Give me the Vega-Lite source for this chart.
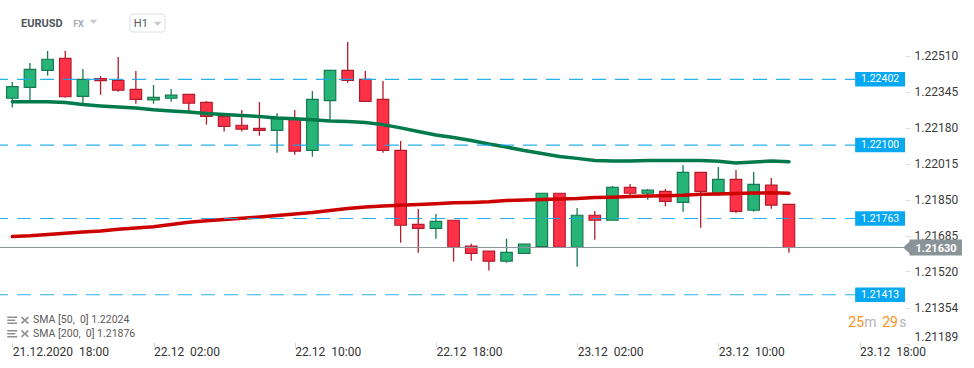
{
  "$schema": "https://vega.github.io/schema/vega-lite/v6.json",
  "width": 905,
  "height": 344,
  "autosize": {"type": "none"},
  "padding": {"left": 0, "top": 0, "right": 69, "bottom": 24},
  "background": "#ffffff",
  "config": {"font": "Roboto", "view": {"stroke": null}},
  "title": {"text": "EURUSD", "anchor": "start", "frame": "group", "orient": "top", "offset": 0, "dx": 21, "dy": 38, "baseline": "alphabetic", "fontSize": 11, "fontWeight": "bold", "color": "#4f565d", "font": "Roboto"},
  "datasets": {
    "candles": [
      {"t": "2020-12-21T18:00:00Z", "o": 1.22315, "h": 1.22390, "l": 1.22272, "c": 1.22368},
      {"t": "2020-12-21T19:00:00Z", "o": 1.22365, "h": 1.22477, "l": 1.22302, "c": 1.22448},
      {"t": "2020-12-21T20:00:00Z", "o": 1.22443, "h": 1.22532, "l": 1.22419, "c": 1.22494},
      {"t": "2020-12-21T21:00:00Z", "o": 1.22498, "h": 1.22532, "l": 1.22318, "c": 1.22322},
      {"t": "2020-12-21T22:00:00Z", "o": 1.22324, "h": 1.22449, "l": 1.22289, "c": 1.22402},
      {"t": "2020-12-21T23:00:00Z", "o": 1.22405, "h": 1.22417, "l": 1.22331, "c": 1.22396},
      {"t": "2020-12-22T00:00:00Z", "o": 1.22397, "h": 1.22504, "l": 1.22345, "c": 1.22352},
      {"t": "2020-12-22T01:00:00Z", "o": 1.22356, "h": 1.22440, "l": 1.22290, "c": 1.22310},
      {"t": "2020-12-22T02:00:00Z", "o": 1.22308, "h": 1.22376, "l": 1.22290, "c": 1.22319},
      {"t": "2020-12-22T03:00:00Z", "o": 1.22315, "h": 1.22357, "l": 1.22299, "c": 1.22329},
      {"t": "2020-12-22T04:00:00Z", "o": 1.22333, "h": 1.22335, "l": 1.22246, "c": 1.22292},
      {"t": "2020-12-22T05:00:00Z", "o": 1.22296, "h": 1.22302, "l": 1.22194, "c": 1.22232},
      {"t": "2020-12-22T06:00:00Z", "o": 1.22232, "h": 1.22232, "l": 1.22162, "c": 1.22186},
      {"t": "2020-12-22T07:00:00Z", "o": 1.22191, "h": 1.22261, "l": 1.22162, "c": 1.22173},
      {"t": "2020-12-22T08:00:00Z", "o": 1.22177, "h": 1.22298, "l": 1.22143, "c": 1.22168},
      {"t": "2020-12-22T09:00:00Z", "o": 1.22168, "h": 1.22246, "l": 1.22065, "c": 1.22221},
      {"t": "2020-12-22T10:00:00Z", "o": 1.22221, "h": 1.22261, "l": 1.22056, "c": 1.22072},
      {"t": "2020-12-22T11:00:00Z", "o": 1.22076, "h": 1.22348, "l": 1.22047, "c": 1.22310},
      {"t": "2020-12-22T12:00:00Z", "o": 1.22304, "h": 1.22443, "l": 1.22211, "c": 1.22443},
      {"t": "2020-12-22T13:00:00Z", "o": 1.22443, "h": 1.22573, "l": 1.22386, "c": 1.22397},
      {"t": "2020-12-22T14:00:00Z", "o": 1.22402, "h": 1.22440, "l": 1.22301, "c": 1.22301},
      {"t": "2020-12-22T15:00:00Z", "o": 1.22310, "h": 1.22394, "l": 1.22065, "c": 1.22076},
      {"t": "2020-12-22T16:00:00Z", "o": 1.22076, "h": 1.22119, "l": 1.21652, "c": 1.21732},
      {"t": "2020-12-22T17:00:00Z", "o": 1.21736, "h": 1.21807, "l": 1.21606, "c": 1.21718},
      {"t": "2020-12-22T18:00:00Z", "o": 1.21718, "h": 1.21784, "l": 1.21670, "c": 1.21750},
      {"t": "2020-12-22T19:00:00Z", "o": 1.21755, "h": 1.21755, "l": 1.21565, "c": 1.21631},
      {"t": "2020-12-22T20:00:00Z", "o": 1.21636, "h": 1.21647, "l": 1.21569, "c": 1.21603},
      {"t": "2020-12-22T21:00:00Z", "o": 1.21613, "h": 1.21613, "l": 1.21524, "c": 1.21567},
      {"t": "2020-12-22T22:00:00Z", "o": 1.21567, "h": 1.21670, "l": 1.21560, "c": 1.21608},
      {"t": "2020-12-22T23:00:00Z", "o": 1.21603, "h": 1.21645, "l": 1.21603, "c": 1.21645},
      {"t": "2020-12-23T00:00:00Z", "o": 1.21634, "h": 1.21879, "l": 1.21634, "c": 1.21879},
      {"t": "2020-12-23T01:00:00Z", "o": 1.21879, "h": 1.21879, "l": 1.21631, "c": 1.21631},
      {"t": "2020-12-23T02:00:00Z", "o": 1.21631, "h": 1.21811, "l": 1.21542, "c": 1.21778},
      {"t": "2020-12-23T03:00:00Z", "o": 1.21778, "h": 1.21798, "l": 1.21666, "c": 1.21755},
      {"t": "2020-12-23T04:00:00Z", "o": 1.21755, "h": 1.21912, "l": 1.21755, "c": 1.21906},
      {"t": "2020-12-23T05:00:00Z", "o": 1.21906, "h": 1.21921, "l": 1.21870, "c": 1.21879},
      {"t": "2020-12-23T06:00:00Z", "o": 1.21879, "h": 1.21899, "l": 1.21849, "c": 1.21893},
      {"t": "2020-12-23T07:00:00Z", "o": 1.21888, "h": 1.21899, "l": 1.21819, "c": 1.21842},
      {"t": "2020-12-23T08:00:00Z", "o": 1.21837, "h": 1.22009, "l": 1.21794, "c": 1.21975},
      {"t": "2020-12-23T09:00:00Z", "o": 1.21975, "h": 1.21975, "l": 1.21721, "c": 1.21888},
      {"t": "2020-12-23T10:00:00Z", "o": 1.21879, "h": 1.22000, "l": 1.21870, "c": 1.21943},
      {"t": "2020-12-23T11:00:00Z", "o": 1.21943, "h": 1.21986, "l": 1.21787, "c": 1.21796},
      {"t": "2020-12-23T12:00:00Z", "o": 1.21801, "h": 1.21977, "l": 1.21794, "c": 1.21920},
      {"t": "2020-12-23T13:00:00Z", "o": 1.21916, "h": 1.21949, "l": 1.21808, "c": 1.21824},
      {"t": "2020-12-23T14:00:00Z", "o": 1.21828, "h": 1.21828, "l": 1.21606, "c": 1.21630}
    ],
    "sma": [
      {"t": "2020-12-21T18:00:00Z", "s": "SMA50", "v": 1.22299},
      {"t": "2020-12-21T19:00:00Z", "s": "SMA50", "v": 1.22299},
      {"t": "2020-12-21T20:00:00Z", "s": "SMA50", "v": 1.22299},
      {"t": "2020-12-21T21:00:00Z", "s": "SMA50", "v": 1.22296},
      {"t": "2020-12-21T22:00:00Z", "s": "SMA50", "v": 1.22286},
      {"t": "2020-12-21T23:00:00Z", "s": "SMA50", "v": 1.22280},
      {"t": "2020-12-22T00:00:00Z", "s": "SMA50", "v": 1.22275},
      {"t": "2020-12-22T01:00:00Z", "s": "SMA50", "v": 1.22270},
      {"t": "2020-12-22T02:00:00Z", "s": "SMA50", "v": 1.22262},
      {"t": "2020-12-22T03:00:00Z", "s": "SMA50", "v": 1.22257},
      {"t": "2020-12-22T04:00:00Z", "s": "SMA50", "v": 1.22252},
      {"t": "2020-12-22T05:00:00Z", "s": "SMA50", "v": 1.22245},
      {"t": "2020-12-22T06:00:00Z", "s": "SMA50", "v": 1.22240},
      {"t": "2020-12-22T07:00:00Z", "s": "SMA50", "v": 1.22236},
      {"t": "2020-12-22T08:00:00Z", "s": "SMA50", "v": 1.22231},
      {"t": "2020-12-22T09:00:00Z", "s": "SMA50", "v": 1.22224},
      {"t": "2020-12-22T10:00:00Z", "s": "SMA50", "v": 1.22221},
      {"t": "2020-12-22T11:00:00Z", "s": "SMA50", "v": 1.22216},
      {"t": "2020-12-22T12:00:00Z", "s": "SMA50", "v": 1.22211},
      {"t": "2020-12-22T13:00:00Z", "s": "SMA50", "v": 1.22208},
      {"t": "2020-12-22T14:00:00Z", "s": "SMA50", "v": 1.22204},
      {"t": "2020-12-22T15:00:00Z", "s": "SMA50", "v": 1.22194},
      {"t": "2020-12-22T16:00:00Z", "s": "SMA50", "v": 1.22179},
      {"t": "2020-12-22T17:00:00Z", "s": "SMA50", "v": 1.22162},
      {"t": "2020-12-22T18:00:00Z", "s": "SMA50", "v": 1.22146},
      {"t": "2020-12-22T19:00:00Z", "s": "SMA50", "v": 1.22135},
      {"t": "2020-12-22T20:00:00Z", "s": "SMA50", "v": 1.22121},
      {"t": "2020-12-22T21:00:00Z", "s": "SMA50", "v": 1.22105},
      {"t": "2020-12-22T22:00:00Z", "s": "SMA50", "v": 1.22091},
      {"t": "2020-12-22T23:00:00Z", "s": "SMA50", "v": 1.22075},
      {"t": "2020-12-23T00:00:00Z", "s": "SMA50", "v": 1.22061},
      {"t": "2020-12-23T01:00:00Z", "s": "SMA50", "v": 1.22048},
      {"t": "2020-12-23T02:00:00Z", "s": "SMA50", "v": 1.22039},
      {"t": "2020-12-23T03:00:00Z", "s": "SMA50", "v": 1.22029},
      {"t": "2020-12-23T04:00:00Z", "s": "SMA50", "v": 1.22027},
      {"t": "2020-12-23T05:00:00Z", "s": "SMA50", "v": 1.22027},
      {"t": "2020-12-23T06:00:00Z", "s": "SMA50", "v": 1.22029},
      {"t": "2020-12-23T07:00:00Z", "s": "SMA50", "v": 1.22029},
      {"t": "2020-12-23T08:00:00Z", "s": "SMA50", "v": 1.22029},
      {"t": "2020-12-23T09:00:00Z", "s": "SMA50", "v": 1.22029},
      {"t": "2020-12-23T10:00:00Z", "s": "SMA50", "v": 1.22026},
      {"t": "2020-12-23T11:00:00Z", "s": "SMA50", "v": 1.22018},
      {"t": "2020-12-23T12:00:00Z", "s": "SMA50", "v": 1.22022},
      {"t": "2020-12-23T13:00:00Z", "s": "SMA50", "v": 1.22027},
      {"t": "2020-12-23T14:00:00Z", "s": "SMA50", "v": 1.22024},
      {"t": "2020-12-21T18:00:00Z", "s": "SMA200", "v": 1.21680},
      {"t": "2020-12-21T19:00:00Z", "s": "SMA200", "v": 1.21684},
      {"t": "2020-12-21T20:00:00Z", "s": "SMA200", "v": 1.21690},
      {"t": "2020-12-21T21:00:00Z", "s": "SMA200", "v": 1.21695},
      {"t": "2020-12-21T22:00:00Z", "s": "SMA200", "v": 1.21701},
      {"t": "2020-12-21T23:00:00Z", "s": "SMA200", "v": 1.21706},
      {"t": "2020-12-22T00:00:00Z", "s": "SMA200", "v": 1.21714},
      {"t": "2020-12-22T01:00:00Z", "s": "SMA200", "v": 1.21719},
      {"t": "2020-12-22T02:00:00Z", "s": "SMA200", "v": 1.21725},
      {"t": "2020-12-22T03:00:00Z", "s": "SMA200", "v": 1.21736},
      {"t": "2020-12-22T04:00:00Z", "s": "SMA200", "v": 1.21746},
      {"t": "2020-12-22T05:00:00Z", "s": "SMA200", "v": 1.21753},
      {"t": "2020-12-22T06:00:00Z", "s": "SMA200", "v": 1.21759},
      {"t": "2020-12-22T07:00:00Z", "s": "SMA200", "v": 1.21764},
      {"t": "2020-12-22T08:00:00Z", "s": "SMA200", "v": 1.21770},
      {"t": "2020-12-22T09:00:00Z", "s": "SMA200", "v": 1.21777},
      {"t": "2020-12-22T10:00:00Z", "s": "SMA200", "v": 1.21784},
      {"t": "2020-12-22T11:00:00Z", "s": "SMA200", "v": 1.21791},
      {"t": "2020-12-22T12:00:00Z", "s": "SMA200", "v": 1.21800},
      {"t": "2020-12-22T13:00:00Z", "s": "SMA200", "v": 1.21809},
      {"t": "2020-12-22T14:00:00Z", "s": "SMA200", "v": 1.21816},
      {"t": "2020-12-22T15:00:00Z", "s": "SMA200", "v": 1.21820},
      {"t": "2020-12-22T16:00:00Z", "s": "SMA200", "v": 1.21824},
      {"t": "2020-12-22T17:00:00Z", "s": "SMA200", "v": 1.21827},
      {"t": "2020-12-22T18:00:00Z", "s": "SMA200", "v": 1.21831},
      {"t": "2020-12-22T19:00:00Z", "s": "SMA200", "v": 1.21835},
      {"t": "2020-12-22T20:00:00Z", "s": "SMA200", "v": 1.21837},
      {"t": "2020-12-22T21:00:00Z", "s": "SMA200", "v": 1.21840},
      {"t": "2020-12-22T22:00:00Z", "s": "SMA200", "v": 1.21846},
      {"t": "2020-12-22T23:00:00Z", "s": "SMA200", "v": 1.21848},
      {"t": "2020-12-23T00:00:00Z", "s": "SMA200", "v": 1.21850},
      {"t": "2020-12-23T01:00:00Z", "s": "SMA200", "v": 1.21853},
      {"t": "2020-12-23T02:00:00Z", "s": "SMA200", "v": 1.21855},
      {"t": "2020-12-23T03:00:00Z", "s": "SMA200", "v": 1.21859},
      {"t": "2020-12-23T04:00:00Z", "s": "SMA200", "v": 1.21861},
      {"t": "2020-12-23T05:00:00Z", "s": "SMA200", "v": 1.21864},
      {"t": "2020-12-23T06:00:00Z", "s": "SMA200", "v": 1.21866},
      {"t": "2020-12-23T07:00:00Z", "s": "SMA200", "v": 1.21868},
      {"t": "2020-12-23T08:00:00Z", "s": "SMA200", "v": 1.21870},
      {"t": "2020-12-23T09:00:00Z", "s": "SMA200", "v": 1.21874},
      {"t": "2020-12-23T10:00:00Z", "s": "SMA200", "v": 1.21876},
      {"t": "2020-12-23T11:00:00Z", "s": "SMA200", "v": 1.21878},
      {"t": "2020-12-23T12:00:00Z", "s": "SMA200", "v": 1.21880},
      {"t": "2020-12-23T13:00:00Z", "s": "SMA200", "v": 1.21881},
      {"t": "2020-12-23T14:00:00Z", "s": "SMA200", "v": 1.21879}
    ],
    "levels": [
      {"level": 1.22402},
      {"level": 1.22100},
      {"level": 1.21763},
      {"level": 1.21413}
    ],
    "current": [
      {"price": 1.21630}
    ],
    "one": [{}]
  },
  "layer": [
    {
      "data": {"name": "candles"},
      "mark": {"type": "rule", "strokeWidth": 1.3},
      "encoding": {
        "x": {
          "field": "t", "type": "temporal",
          "scale": {"type": "utc", "padding": 0, "domain": [
            {"year": 2020, "month": 12, "date": 21, "hours": 17, "minutes": 18, "seconds": 10, "utc": true},
            {"year": 2020, "month": 12, "date": 23, "hours": 20, "minutes": 34, "seconds": 30, "utc": true}
          ]},
          "axis": {
            "orient": "bottom", "title": null, "domain": false, "grid": false,
            "values": [
              {"year": 2020, "month": 12, "date": 21, "hours": 18, "utc": true},
              {"year": 2020, "month": 12, "date": 22, "hours": 2, "utc": true},
              {"year": 2020, "month": 12, "date": 22, "hours": 10, "utc": true},
              {"year": 2020, "month": 12, "date": 22, "hours": 18, "utc": true},
              {"year": 2020, "month": 12, "date": 23, "hours": 2, "utc": true},
              {"year": 2020, "month": 12, "date": 23, "hours": 10, "utc": true},
              {"year": 2020, "month": 12, "date": 23, "hours": 18, "utc": true}
            ],
            "labelExpr": "datum.index == 0 ? utcFormat(datum.value, '%d.%m.%Y\u00a0 %H:%M') : utcFormat(datum.value, '%d.%m\u00a0 %H:%M')",
            "labelAlign": "left", "labelFontSize": 12, "labelColor": "#333333",
            "tickSize": 5, "tickColor": "#d6d6d6", "offset": -2, "labelPadding": -1,
            "labelOverlap": false, "labelFlush": false
          }
        },
        "y": {
          "field": "l", "type": "quantitative",
          "scale": {"domain": [1.21187, 1.22766], "nice": false, "zero": false, "padding": 0},
          "axis": {
            "orient": "right", "title": null, "domain": false, "grid": false,
            "values": [1.22510, 1.22345, 1.22180, 1.22015, 1.21850, 1.21685, 1.21520, 1.21354, 1.21189],
            "format": ".5f", "labelFontSize": 12, "labelColor": "#3a3a3a",
            "tickSize": 5, "tickColor": "#dcdcdc", "labelPadding": 4,
            "labelFlush": 2, "labelOverlap": false
          }
        },
        "y2": {"field": "h"},
        "stroke": {"condition": {"test": "datum.c >= datum.o", "value": "#167a50"}, "value": "#b01c2c"}
      }
    },
    {
      "data": {"name": "candles"},
      "mark": {"type": "bar", "width": 11.5, "strokeWidth": 1.2},
      "encoding": {
        "x": {"field": "t", "type": "temporal"},
        "y": {"field": "o", "type": "quantitative"},
        "y2": {"field": "c"},
        "fill": {"condition": {"test": "datum.c >= datum.o", "value": "#27b477"}, "value": "#ff3147"},
        "stroke": {"condition": {"test": "datum.c >= datum.o", "value": "#167a50"}, "value": "#b01c2c"}
      }
    },
    {
      "data": {"name": "sma"},
      "mark": {"type": "line", "strokeWidth": 3.5, "strokeCap": "round"},
      "encoding": {
        "x": {"field": "t", "type": "temporal"},
        "y": {"field": "v", "type": "quantitative"},
        "color": {
          "field": "s", "type": "nominal",
          "scale": {"domain": ["SMA50", "SMA200"], "range": ["#007a4b", "#cc0000"]},
          "legend": {
            "orient": "bottom-left", "offset": 4.5, "padding": 0, "title": null,
            "symbolType": "M-0.6,-0.75H1.4V-0.45H-0.6Z M-0.6,-0.15H1.0V0.15H-0.6Z M-0.6,0.45H1.4V0.75H-0.6Z M2.13,-0.5L2.38,-0.75L2.93,-0.2L3.48,-0.75L3.73,-0.5L3.18,0L3.73,0.5L3.48,0.75L2.93,0.2L2.38,0.75L2.13,0.5L2.68,0Z",
            "symbolSize": 100, "symbolFillColor": "#8f8f8f", "symbolStrokeColor": "#8f8f8f", "symbolStrokeWidth": 0,
            "labelOffset": 17.6, "labelFontSize": 10.5, "labelColor": "#5a5a5a", "rowPadding": 2.5,
            "labelExpr": "datum.label == 'SMA50' ? 'SMA [50,\u00a0 0] 1.22024' : 'SMA [200,\u00a0 0] 1.21876'",
            "encode": {"symbols": {"update": {"fill": {"value": "#8f8f8f"}, "stroke": {"value": "#8f8f8f"}, "strokeWidth": {"value": 0}}}}
          }
        }
      }
    },
    {
      "data": {"name": "levels"},
      "mark": {"type": "rule", "strokeDash": [14, 9], "strokeWidth": 1.2, "color": "#12a7ec", "opacity": 0.9},
      "encoding": {"y": {"field": "level", "type": "quantitative"}}
    },
    {
      "data": {"name": "current"},
      "mark": {"type": "rule", "color": "#8d969b", "strokeWidth": 1},
      "encoding": {"y": {"field": "price", "type": "quantitative"}}
    },
    {
      "data": {"name": "levels"},
      "mark": {"type": "bar", "orient": "horizontal", "height": 14.5, "color": "#07a8f2"},
      "encoding": {
        "y": {"field": "level", "type": "quantitative"},
        "x": {"datum": {"year": 2020, "month": 12, "date": 23, "hours": 17, "minutes": 45, "utc": true}, "type": "temporal"},
        "x2": {"datum": {"year": 2020, "month": 12, "date": 23, "hours": 20, "minutes": 34, "seconds": 30, "utc": true}}
      }
    },
    {
      "data": {"name": "levels"},
      "mark": {"type": "text", "color": "#ffffff", "fontSize": 10.5, "align": "center", "baseline": "middle"},
      "encoding": {
        "y": {"field": "level", "type": "quantitative"},
        "x": {"datum": {"year": 2020, "month": 12, "date": 23, "hours": 19, "minutes": 10, "utc": true}, "type": "temporal"},
        "text": {"field": "level", "type": "quantitative", "format": ".5f"}
      }
    },
    {
      "data": {"name": "current"},
      "mark": {"type": "bar", "orient": "horizontal", "height": 16, "color": "#8a9398"},
      "encoding": {
        "y": {"field": "price", "type": "quantitative"},
        "x": {"datum": {"year": 2020, "month": 12, "date": 23, "hours": 20, "minutes": 50, "utc": true}, "type": "temporal"},
        "x2": {"datum": {"year": 2020, "month": 12, "date": 23, "hours": 23, "minutes": 48, "utc": true}}
      }
    },
    {
      "data": {"name": "current"},
      "mark": {"type": "point", "shape": "M0,0L1.1,-1L1.1,1Z", "size": 256, "filled": true, "color": "#8a9398", "opacity": 1, "strokeWidth": 0},
      "encoding": {
        "y": {"field": "price", "type": "quantitative"},
        "x": {"datum": {"year": 2020, "month": 12, "date": 23, "hours": 20, "minutes": 28, "utc": true}, "type": "temporal"}
      }
    },
    {
      "data": {"name": "current"},
      "mark": {"type": "text", "color": "#ffffff", "fontSize": 11, "fontWeight": "bold", "align": "center", "baseline": "middle", "dy": 1.5},
      "encoding": {
        "y": {"field": "price", "type": "quantitative"},
        "x": {"datum": {"year": 2020, "month": 12, "date": 23, "hours": 22, "minutes": 20, "utc": true}, "type": "temporal"},
        "text": {"field": "price", "type": "quantitative", "format": ".5f"}
      }
    },
    {
      "data": {"name": "one"},
      "mark": {"type": "rect", "fill": "#ffffff", "stroke": "#dcdfe3", "strokeWidth": 1, "cornerRadius": 3},
      "encoding": {
        "x": {"datum": {"year": 2020, "month": 12, "date": 22, "hours": 0, "minutes": 40, "utc": true}, "type": "temporal"},
        "x2": {"datum": {"year": 2020, "month": 12, "date": 22, "hours": 2, "minutes": 39, "utc": true}},
        "y": {"datum": 1.22702, "type": "quantitative"},
        "y2": {"datum": 1.22619}
      }
    },
    {
      "data": {"name": "one"},
      "mark": {"type": "text", "text": "FX", "fontSize": 9, "fontWeight": "bold", "color": "#a4acb4", "align": "center", "baseline": "middle"},
      "encoding": {
        "x": {"datum": {"year": 2020, "month": 12, "date": 21, "hours": 21, "minutes": 45, "utc": true}, "type": "temporal"},
        "y": {"datum": 1.22656, "type": "quantitative"}
      }
    },
    {
      "data": {"name": "one"},
      "mark": {"type": "point", "shape": "M-1,-0.5L1,-0.5L0,0.5Z", "size": 64, "filled": true, "color": "#c6cacf", "opacity": 1, "strokeWidth": 0},
      "encoding": {
        "x": {"datum": {"year": 2020, "month": 12, "date": 21, "hours": 22, "minutes": 36, "utc": true}, "type": "temporal"},
        "y": {"datum": 1.22666, "type": "quantitative"}
      }
    },
    {
      "data": {"name": "one"},
      "mark": {"type": "text", "text": "H1", "fontSize": 11, "color": "#51585f", "align": "center", "baseline": "middle"},
      "encoding": {
        "x": {"datum": {"year": 2020, "month": 12, "date": 22, "hours": 1, "minutes": 17, "utc": true}, "type": "temporal"},
        "y": {"datum": 1.22657, "type": "quantitative"}
      }
    },
    {
      "data": {"name": "one"},
      "mark": {"type": "point", "shape": "M-1,-0.5L1,-0.5L0,0.5Z", "size": 64, "filled": true, "color": "#c6cacf", "opacity": 1, "strokeWidth": 0},
      "encoding": {
        "x": {"datum": {"year": 2020, "month": 12, "date": 22, "hours": 2, "minutes": 14, "utc": true}, "type": "temporal"},
        "y": {"datum": 1.22657, "type": "quantitative"}
      }
    },
    {
      "data": {"name": "one"},
      "mark": {"type": "text", "text": "25", "fontSize": 14, "color": "#f7941d", "align": "left", "baseline": "middle"},
      "encoding": {
        "x": {"datum": {"year": 2020, "month": 12, "date": 23, "hours": 17, "minutes": 22, "utc": true}, "type": "temporal"},
        "y": {"datum": 1.21282, "type": "quantitative"}
      }
    },
    {
      "data": {"name": "one"},
      "mark": {"type": "text", "text": "m", "fontSize": 14, "color": "#b4b4b4", "align": "left", "baseline": "middle"},
      "encoding": {
        "x": {"datum": {"year": 2020, "month": 12, "date": 23, "hours": 18, "minutes": 16, "utc": true}, "type": "temporal"},
        "y": {"datum": 1.21282, "type": "quantitative"}
      }
    },
    {
      "data": {"name": "one"},
      "mark": {"type": "text", "text": "29", "fontSize": 14, "color": "#f7941d", "align": "left", "baseline": "middle"},
      "encoding": {
        "x": {"datum": {"year": 2020, "month": 12, "date": 23, "hours": 19, "minutes": 17, "utc": true}, "type": "temporal"},
        "y": {"datum": 1.21282, "type": "quantitative"}
      }
    },
    {
      "data": {"name": "one"},
      "mark": {"type": "text", "text": "s", "fontSize": 14, "color": "#b4b4b4", "align": "left", "baseline": "middle"},
      "encoding": {
        "x": {"datum": {"year": 2020, "month": 12, "date": 23, "hours": 20, "minutes": 15, "utc": true}, "type": "temporal"},
        "y": {"datum": 1.21282, "type": "quantitative"}
      }
    }
  ]
}
